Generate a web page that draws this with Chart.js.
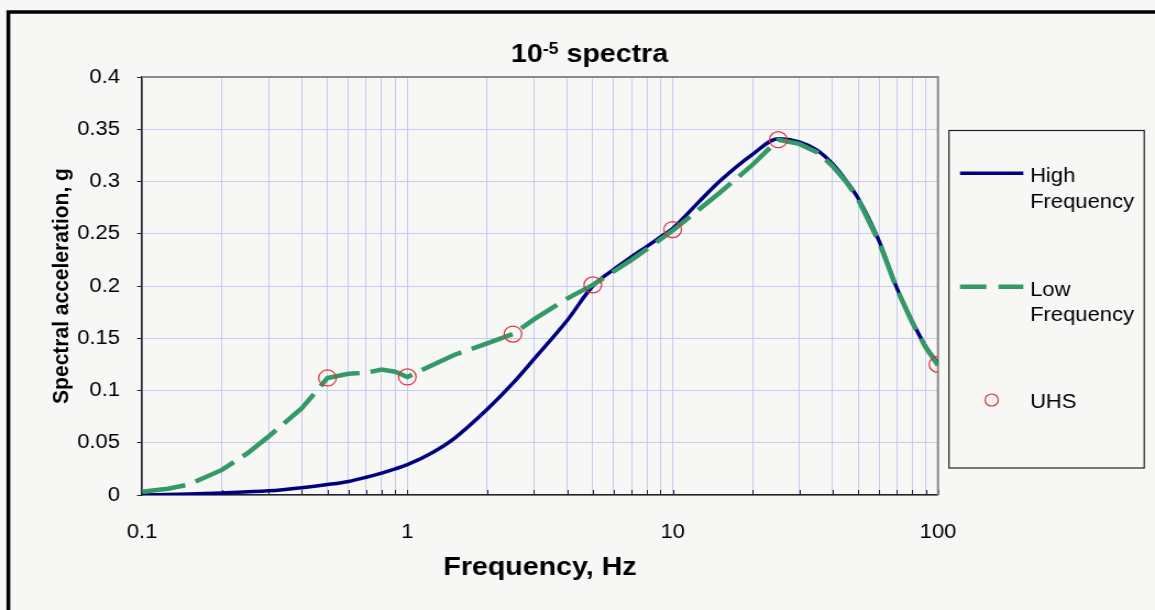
<!DOCTYPE html>
<html lang="en">
<head>
<meta charset="UTF-8">
<title>10-5 spectra</title>
<style>
  body { margin: 0; background: #f7f7f5; overflow: hidden; }
  /* drawn on a narrower canvas and widened, which gives the wide Excel-style lettering */
  #spectraChart { display: block; transform: scaleX(1.1); transform-origin: 0 0; }
</style>
<script src="https://cdn.jsdelivr.net/npm/chart.js"></script>
</head>
<body>
<canvas id="spectraChart" width="1050" height="610"></canvas>
<script>
// High frequency spectrum
const freqHigh = [0.1, 0.15, 0.2, 0.3, 0.4, 0.5, 0.6, 0.7, 0.8, 0.9, 1, 1.25, 1.5, 2, 2.5, 3, 4, 5, 6, 7, 8, 9,
                  10, 12.5, 15, 20, 25, 30, 35, 40, 45, 50, 60, 70, 80, 90, 100];
const accHigh  = [0.000, 0.001, 0.002, 0.004, 0.007, 0.010, 0.013, 0.017, 0.021, 0.025, 0.029, 0.041, 0.054,
                  0.082, 0.107, 0.130, 0.167, 0.200, 0.216, 0.228, 0.238, 0.247, 0.255, 0.280, 0.300, 0.326,
                  0.341, 0.338, 0.330, 0.317, 0.301, 0.284, 0.243, 0.198, 0.166, 0.142, 0.126];

// Low frequency spectrum
const freqLow = [0.1, 0.125, 0.15, 0.2, 0.25, 0.3, 0.4, 0.5, 0.6, 0.7, 0.8, 0.9, 1, 1.5, 2, 2.5, 3, 4, 5, 7,
                 10, 15, 20, 25, 30, 35, 40, 45, 50, 60, 70, 80, 90, 100];
const accLow  = [0.003, 0.006, 0.010, 0.024, 0.040, 0.056, 0.083, 0.112, 0.116, 0.117, 0.120, 0.118, 0.113,
                 0.134, 0.145, 0.154, 0.168, 0.188, 0.201, 0.225, 0.253, 0.289, 0.316, 0.340, 0.336, 0.328,
                 0.315, 0.300, 0.283, 0.242, 0.197, 0.165, 0.141, 0.124];

// Uniform hazard spectrum points
const freqUHS = [0.5, 1, 2.5, 5, 10, 25, 100];
const accUHS  = [0.112, 0.113, 0.154, 0.201, 0.254, 0.340, 0.125];

const xMajorTicks = [0.1, 1, 10, 100];
const seriesNames = ['High\nFrequency', 'Low\nFrequency', 'UHS'];

// log grid: 1..9 in every decade
const xGridValues = [];
xMajorTicks.slice(0, -1).forEach(d => {
  for (let k = 1; k <= 9; k++) xGridValues.push(+(k * d).toPrecision(3));
});
xGridValues.push(100);

const toPoints = (xs, ys) => xs.map((x, i) => ({ x: x, y: ys[i] }));

const FONT = '"Liberation Sans", Arial, sans-serif';
const GRID = '#c9c9f2';

const frame = {
  id: 'frame',
  beforeDraw(chart) {
    const ctx = chart.ctx;
    ctx.save();
    ctx.fillStyle = '#f7f7f5';
    ctx.fillRect(0, 0, chart.width, chart.height);
    ctx.lineWidth = 3.5;
    ctx.strokeStyle = '#000';
    ctx.strokeRect(7.6, 12, 2000, 2000);
    ctx.restore();
  },
  beforeDatasetsDraw(chart) {
    const { ctx, chartArea: a } = chart;
    const xs = chart.scales.x;
    ctx.save();
    // small inward ticks on the frequency axis
    ctx.strokeStyle = '#222';
    ctx.lineWidth = 1;
    xGridValues.forEach(v => {
      const px = Math.round(xs.getPixelForValue(v)) + 0.5;
      ctx.beginPath();
      ctx.moveTo(px, a.bottom);
      ctx.lineTo(px, a.bottom - 5);
      ctx.stroke();
    });
    // grey top and right edges of the plot
    ctx.strokeStyle = '#8a8a8a';
    ctx.lineWidth = 2;
    ctx.beginPath();
    ctx.moveTo(a.left, a.top);
    ctx.lineTo(a.right, a.top);
    ctx.lineTo(a.right, a.bottom);
    ctx.stroke();
    ctx.restore();
  }
};

const titleText = {
  id: 'titleText',
  afterDraw(chart) {
    const ctx = chart.ctx;
    ctx.save();
    ctx.fillStyle = '#000';
    ctx.textBaseline = 'alphabetic';
    ctx.textAlign = 'left';
    const big = 'bold 26px ' + FONT, small = 'bold 16px ' + FONT;
    ctx.font = big;
    const w1 = ctx.measureText('10').width, w3 = ctx.measureText(' spectra').width;
    ctx.font = small;
    const w2 = ctx.measureText('-5').width;
    let x = 536 - (w1 + w2 + w3) / 2;
    const y = 62;
    ctx.font = big;
    ctx.fillText('10', x, y);
    x += w1;
    ctx.font = small;
    ctx.fillText('-5', x, y - 8);
    x += w2;
    ctx.font = big;
    ctx.fillText(' spectra', x, y);
    ctx.restore();
  }
};

const legendBox = {
  id: 'legendBox',
  afterDraw(chart) {
    const ctx = chart.ctx;
    const [high, low, uhs] = chart.data.datasets;
    ctx.save();
    ctx.strokeStyle = '#222';
    ctx.lineWidth = 1.2;
    ctx.strokeRect(862.7, 130.5, 177.5, 337.5);

    const sample = (ds, y, dash) => {
      ctx.strokeStyle = ds.borderColor;
      ctx.lineWidth = ds.borderWidth;
      ctx.setLineDash(dash);
      ctx.beginPath();
      ctx.moveTo(872.7, y);
      ctx.lineTo(930.3, y);
      ctx.stroke();
      ctx.setLineDash([]);
    };
    sample(high, 173.3, []);
    sample(low, 286.7, [24, 11]);

    ctx.strokeStyle = uhs.pointBorderColor;
    ctx.lineWidth = 1.2;
    ctx.beginPath();
    ctx.arc(901.5, 400, 6, 0, Math.PI * 2);
    ctx.stroke();

    ctx.fillStyle = '#000';
    ctx.font = '20px ' + FONT;
    ctx.textAlign = 'left';
    ctx.textBaseline = 'alphabetic';
    const lines = (text, y0) => text.split('\n').forEach((t, i) => ctx.fillText(t, 936.4, y0 + i * 25.5));
    lines(high.label, 182);
    lines(low.label, 295.5);
    lines(uhs.label, 407.5);
    ctx.restore();
  }
};

new Chart(document.getElementById('spectraChart'), {
  type: 'line',
  data: {
    datasets: [
      {
        label: seriesNames[0],
        data: toPoints(freqHigh, accHigh),
        borderColor: '#000080',
        borderWidth: 3.5,
        pointRadius: 0,
        cubicInterpolationMode: 'monotone',
        order: 2
      },
      {
        label: seriesNames[1],
        data: toPoints(freqLow, accLow),
        borderColor: '#339966',
        borderWidth: 4.5,
        borderDash: [40, 10],
        pointRadius: 0,
        tension: 0,
        order: 1
      },
      {
        label: seriesNames[2],
        data: toPoints(freqUHS, accUHS),
        showLine: false,
        pointRadius: 8,
        pointBorderWidth: 1.2,
        pointBorderColor: '#e0303c',
        pointBackgroundColor: 'rgba(0,0,0,0)',
        order: 0
      }
    ]
  },
  options: {
    responsive: false,
    devicePixelRatio: 1,
    animation: false,
    layout: { padding: { top: 77, right: 197.3, left: 0, bottom: 0 } },
    plugins: {
      legend: { display: false },
      title: { display: false },
      tooltip: { enabled: false }
    },
    scales: {
      x: {
        type: 'logarithmic',
        min: 0.1,
        max: 100,
        afterBuildTicks(scale) {
          scale.ticks = xGridValues.map(v => ({ value: v, major: xMajorTicks.includes(v) }));
        },
        afterFit(scale) { scale.height = 115; },
        grid: { color: GRID, lineWidth: 1, drawTicks: false },
        border: { color: '#222', width: 1.6 },
        ticks: {
          autoSkip: false,
          maxRotation: 0,
          padding: 25,
          color: '#000',
          font: { family: FONT, size: 20 },
          callback: v => (xMajorTicks.includes(v) ? String(v) : '')
        },
        title: {
          display: true,
          text: 'Frequency, Hz',
          color: '#000',
          font: { family: FONT, size: 26, weight: 'bold' },
          padding: { top: 0, bottom: 27 }
        }
      },
      y: {
        min: 0,
        max: 0.4,
        afterFit(scale) { scale.width = 129.1; },
        grid: { color: GRID, lineWidth: 1, tickColor: '#222', tickLength: 4.5 },
        border: { color: '#222', width: 1.6 },
        ticks: {
          stepSize: 0.05,
          padding: 15.5,
          color: '#000',
          font: { family: FONT, size: 20 },
          callback: v => String(+v.toFixed(2))
        },
        title: {
          display: true,
          text: 'Spectral acceleration, g',
          color: '#000',
          font: { family: FONT, size: 21, weight: 'bold' },
          padding: { top: 44, bottom: 0 }
        }
      }
    }
  },
  plugins: [frame, titleText, legendBox]
});
</script>
</body>
</html>
